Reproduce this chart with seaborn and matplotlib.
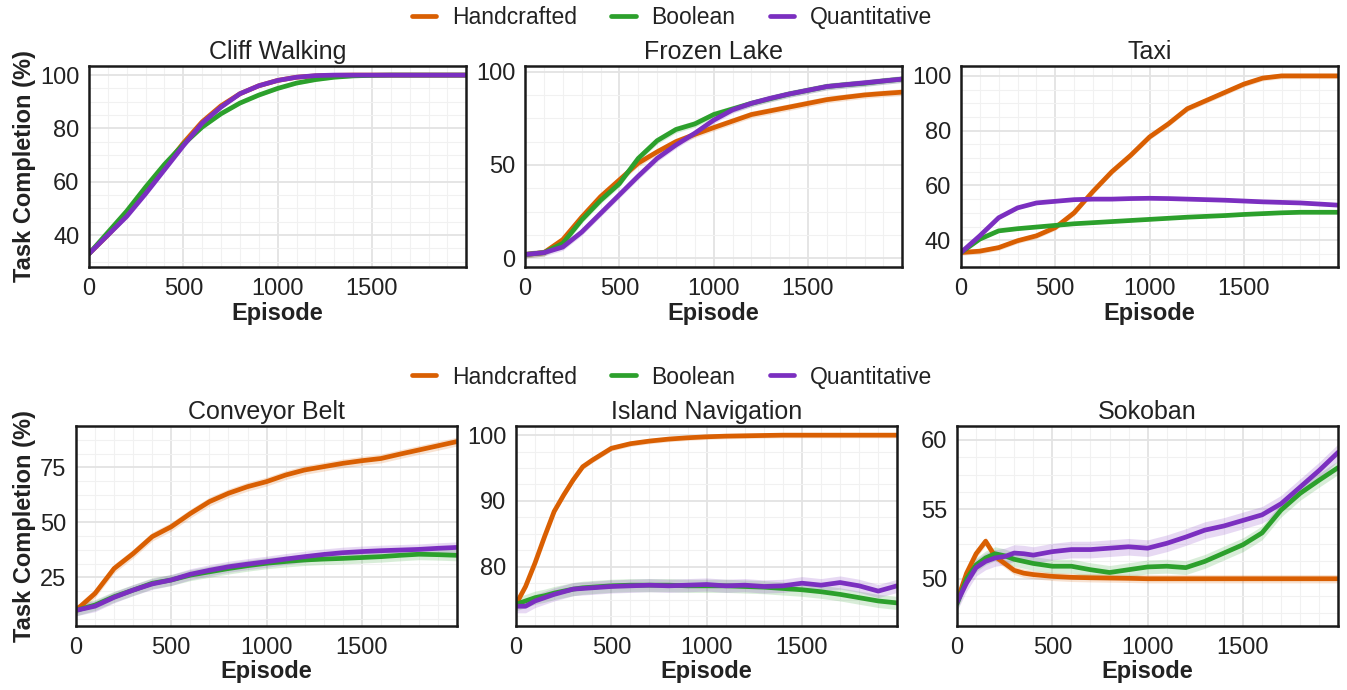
import numpy as np
import pandas as pd
import matplotlib
matplotlib.use("Agg")
import matplotlib.pyplot as plt
from matplotlib.ticker import AutoMinorLocator, MultipleLocator
from matplotlib.lines import Line2D
import seaborn as sns

# ---- data ----
methods = ["Handcrafted", "Boolean", "Quantitative"]
colors = {"Handcrafted": "#d95f02", "Boolean": "#2ca02c", "Quantitative": "#7b2fc0"}

ep = [0, 100, 200, 300, 400, 500, 600, 700, 800, 900, 1000,
      1100, 1200, 1300, 1400, 1500, 1600, 1700, 1800, 1900, 1999]
ep_fine = [0, 50, 100, 150, 200, 250, 300, 350, 400, 500, 600, 700, 800,
           900, 1000, 1100, 1200, 1300, 1400, 1500, 1600, 1700, 1800, 1900, 1999]

cliff_hand = [33, 40, 47.5, 56.5, 65.5, 74.5, 82.5, 88.5, 93, 96, 98, 99.2, 99.7, 99.9, 100, 100, 100, 100, 100, 100, 100]
cliff_bool = [33, 41, 49, 58, 66.5, 74, 80.5, 85.5, 89.5, 92.5, 95, 97, 98.3, 99.2, 99.7, 99.9, 100, 100, 100, 100, 100]
cliff_quant = [33, 40, 47, 55.5, 64.5, 73.5, 82, 88, 93, 96, 98, 99.2, 99.8, 100, 100, 100, 100, 100, 100, 100, 100]

frozen_hand = [2, 3, 10, 22, 33, 42, 51, 57, 62.5, 66.4, 70, 73.5, 77, 79, 81, 83, 85, 86.3, 87.5, 88.3, 89]
frozen_bool = [2, 3, 8, 20.5, 31, 40, 53.5, 63, 69, 72, 77, 80, 83, 85.5, 88, 90, 92, 93, 93.8, 95, 96]
frozen_quant = [2, 3, 6, 14, 24, 34, 44, 53.5, 60.7, 67, 74, 79.5, 83, 85.7, 88, 90, 92, 93, 94, 95, 96]

taxi_hand = [35.5, 36, 37.3, 39.8, 41.6, 44.6, 50, 57.8, 65, 71, 77.7, 82.5, 88, 91, 94, 97, 99.2, 100, 100, 100, 100]
taxi_bool = [35.5, 40.4, 43.4, 44.2, 44.8, 45.4, 46, 46.4, 46.8, 47.2, 47.6, 48, 48.4, 48.7, 49, 49.4, 49.7, 50, 50.2, 50.2, 50.2]
taxi_quant = [35.5, 41.6, 48.2, 51.8, 53.6, 54.2, 54.8, 55, 55, 55.2, 55.3, 55.2, 55, 54.8, 54.6, 54.3, 54, 53.8, 53.6, 53.2, 52.8]

conv_hand = [10, 17.7, 29, 35.8, 43.5, 48, 54, 59.4, 63.2, 66.2, 68.5, 71.5, 73.8, 75.3, 76.8, 78, 79, 81, 82.9, 84.8, 86.7]
conv_bool = [10, 12.4, 16.2, 19.2, 22.3, 23.8, 26, 27.5, 29, 30.3, 31.4, 32.2, 32.9, 33.3, 33.6, 34, 34.4, 35, 35.5, 35.3, 35]
conv_quant = [10, 11.9, 15.9, 19.2, 22, 23.8, 26.4, 28.2, 29.8, 31, 32.1, 33.3, 34.4, 35.4, 36.2, 36.7, 37.1, 37.4, 37.7, 38.2, 38.6]

island_hand = [74.3, 77, 80.6, 84.6, 88.4, 90.9, 93.2, 95.2, 96.2, 98, 98.7, 99.1, 99.4, 99.6, 99.75, 99.85, 99.9, 99.95, 100, 100, 100, 100, 100, 100, 100]
island_bool = [74.3, 74.8, 75.3, 75.6, 76, 76.3, 76.6, 76.8, 76.9, 77.1, 77.2, 77.2, 77.2, 77.1, 77.1, 77.1, 77, 76.9, 76.7, 76.5, 76.2, 75.8, 75.3, 74.8, 74.5]
island_quant = [74, 74, 74.8, 75.3, 75.8, 76.2, 76.6, 76.7, 76.8, 77, 77.1, 77.2, 77.1, 77.2, 77.3, 77.1, 77.2, 77, 77.1, 77.5, 77.2, 77.6, 77.1, 76.3, 77.1]

soko_hand = [48.4, 50.4, 51.8, 52.7, 51.6, 51.1, 50.6, 50.4, 50.3, 50.17, 50.1, 50.07, 50.05, 50.03, 50, 50, 50, 50, 50, 50, 50, 50, 50, 50, 50]
soko_bool = [48.2, 50.0, 51.0, 51.5, 51.8, 51.65, 51.4, 51.25, 51.1, 50.9, 50.9, 50.65, 50.45, 50.65, 50.85, 50.9, 50.8, 51.25, 51.85, 52.45, 53.3, 54.95, 56.15, 57.1, 58.0]
soko_quant = [48.3, 49.7, 50.8, 51.25, 51.5, 51.6, 51.85, 51.8, 51.7, 51.95, 52.1, 52.1, 52.2, 52.3, 52.2, 52.55, 53.0, 53.5, 53.8, 54.2, 54.6, 55.4, 56.6, 57.8, 59.1]

# half-width of the shaded band, per method
cliff_band = [0.6, 0.6, 0.6]
frozen_band = [1.8, 1.8, 1.8]
taxi_band = [1.0, 0.5, 0.5]
conv_band = [2.0, 2.5, 2.5]
island_band = [0.4, 1.0, 1.0]
soko_band = [0.3, 0.5, 0.6]

panels = [
    ("Cliff Walking", ep, [cliff_hand, cliff_bool, cliff_quant], cliff_band, (28, 103.4), 20),
    ("Frozen Lake", ep, [frozen_hand, frozen_bool, frozen_quant], frozen_band, (-4.7, 103), 50),
    ("Taxi", ep, [taxi_hand, taxi_bool, taxi_quant], taxi_band, (30.2, 103.6), 20),
    ("Conveyor Belt", ep, [conv_hand, conv_bool, conv_quant], conv_band, (2.9, 93.8), 25),
    ("Island Navigation", ep_fine, [island_hand, island_bool, island_quant], island_band, (71.0, 101.4), 10),
    ("Sokoban", ep_fine, [soko_hand, soko_bool, soko_quant], soko_band, (46.6, 61.0), 5),
]

# axes rectangles (figure fraction)
rects = [
    (0.0661, 0.6130, 0.2799, 0.2913),
    (0.3898, 0.6130, 0.2799, 0.2913),
    (0.7134, 0.6130, 0.2799, 0.2913),
    (0.0564, 0.0928, 0.2829, 0.2899),
    (0.3831, 0.0928, 0.2829, 0.2899),
    (0.7105, 0.0928, 0.2829, 0.2899),
]

sns.set_theme(style="white")
plt.rcParams["font.family"] = ["Liberation Sans", "DejaVu Sans"]
plt.rcParams["text.color"] = "#222222"
plt.rcParams["axes.labelcolor"] = "#222222"
plt.rcParams["xtick.color"] = "#222222"
plt.rcParams["ytick.color"] = "#222222"

fig = plt.figure(figsize=(13.47, 6.9), dpi=100)

for i, (title, x, series, band, ylim, ystep) in enumerate(panels):
    ax = fig.add_axes(rects[i])
    rows = []
    for m, vals in zip(methods, series):
        for e, v in zip(x, vals):
            rows.append({"Episode": e, "Value": v, "Method": m})
    df = pd.DataFrame(rows)
    for m, vals, b in zip(methods, series, band):
        v = np.array(vals, dtype=float)
        ax.fill_between(x, v - b, v + b, color=colors[m], alpha=0.18, lw=0)
    sns.lineplot(data=df, x="Episode", y="Value", hue="Method", hue_order=methods,
                 palette=colors, linewidth=3.4, legend=False, ax=ax)
    ax.set_xlim(0, 1999)
    ax.set_ylim(*ylim)
    ax.xaxis.set_major_locator(MultipleLocator(500))
    ax.yaxis.set_major_locator(MultipleLocator(ystep))
    ax.xaxis.set_minor_locator(AutoMinorLocator(5))
    ax.yaxis.set_minor_locator(AutoMinorLocator(4))
    ax.grid(which="major", color="#e3e3e3", lw=1.3)
    ax.grid(which="minor", color="#f1f1f1", lw=0.8)
    ax.set_axisbelow(True)
    for s in ax.spines.values():
        s.set_color("#1a1a1a")
        s.set_linewidth(1.8)
    ax.tick_params(axis="both", which="both", length=0, labelsize=17)
    ax.tick_params(axis="x", pad=8)
    ax.tick_params(axis="y", pad=7)
    ax.set_title(title, fontsize=18, pad=5)
    ax.set_xlabel("Episode", fontsize=17, fontweight="bold", labelpad=1)
    if i % 3 == 0:
        ax.set_ylabel("Task Completion (%)", fontsize=17, fontweight="bold", labelpad=3)
    else:
        ax.set_ylabel("")

handles = [Line2D([0], [0], color=colors[m], lw=3.4) for m in methods]
for yy in (0.975, 0.4536):
    fig.legend(handles, methods, loc="center", bbox_to_anchor=(0.499, yy), ncol=3,
               frameon=False, fontsize=16.5, handlelength=1.05, columnspacing=1.5,
               handletextpad=0.7)

fig.savefig("out.png", dpi=100)
